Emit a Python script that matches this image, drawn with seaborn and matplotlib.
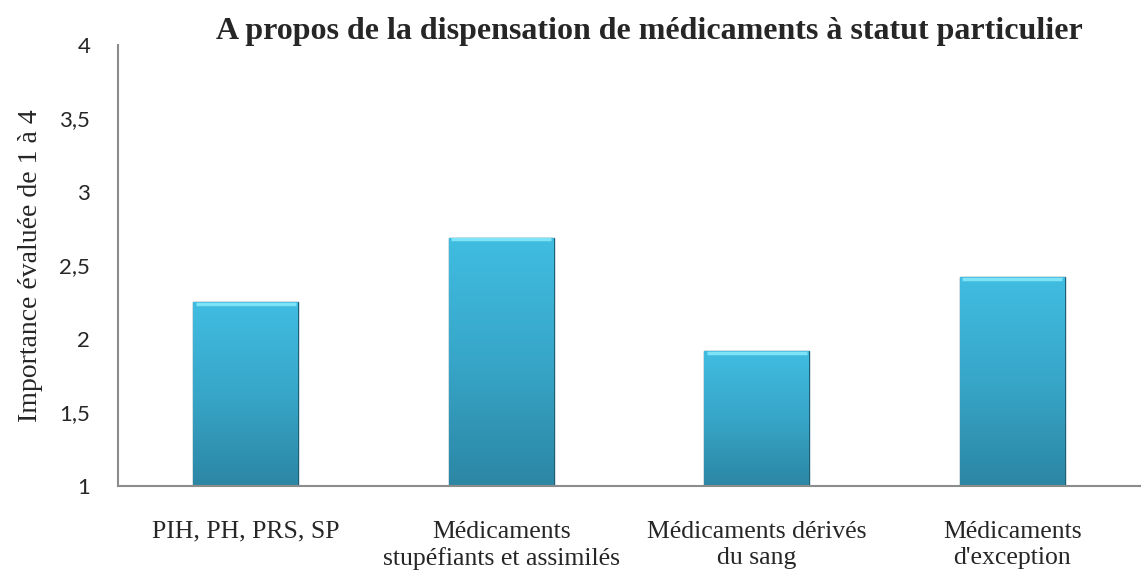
import numpy as np
import pandas as pd
import matplotlib
matplotlib.use("Agg")
import matplotlib.pyplot as plt
import seaborn as sns
from matplotlib.colors import LinearSegmentedColormap

# data
categories = ["PIH, PH, PRS, SP",
              "Médicaments\nstupéfiants et assimilés",
              "Médicaments dérivés\ndu sang",
              "Médicaments\nd'exception"]
scores = [2.25, 2.69, 1.92, 2.42]
y_ticks = [1, 1.5, 2, 2.5, 3, 3.5, 4]
y_tick_labels = ["1", "1,5", "2", "2,5", "3", "3,5", "4"]

sns.set_style("white")
plt.rcParams['font.family'] = ['Liberation Serif', 'DejaVu Serif']

df = pd.DataFrame({"cat": categories, "val": scores})

fig = plt.figure(figsize=(11.42, 5.73), dpi=100)
ax = fig.add_axes([118/1142, 1-486/573, (1140-118)/1142, (486-45)/573])

sns.barplot(data=df, x="cat", y="val", color="#3bb3d6", width=0.41,
            edgecolor="#1f5f75", linewidth=1.0, ax=ax, bottom=0, zorder=2)

ax.set_ylim(1, 4)
ax.set_xlim(-0.5, 3.5)

# vertical gradient inside each bar (light cyan top, darker teal bottom)
cmap = LinearSegmentedColormap.from_list("bar", ["#2c86a4", "#37a6c8", "#40bde1"])
grad = np.linspace(0, 1, 256).reshape(-1, 1)
for p in ax.patches:
    x0, w = p.get_x(), p.get_width()
    top = p.get_y() + p.get_height()
    im = ax.imshow(grad, cmap=cmap, origin="lower", aspect="auto",
                   extent=[x0, x0 + w, 1, top], zorder=2.5)
    im.set_clip_path(p)
    # bevel highlight on top edge
    ax.plot([x0 + 0.01, x0 + w - 0.01], [top - 0.012, top - 0.012],
            color="#7fe3f8", lw=2.5, zorder=3, solid_capstyle="butt")

ax.set_xlim(-0.5, 3.5)
ax.set_ylim(1, 4)

ax.set_yticks(y_ticks)
ax.set_yticklabels(y_tick_labels, family=["Lato", "DejaVu Sans"], fontsize=16)
ax.set_xticks(range(len(categories)))
ax.set_xticklabels(categories, fontsize=18.5, linespacing=1.25)
ax.tick_params(axis="both", length=0)
ax.tick_params(axis="y", pad=20)
ax.tick_params(axis="x", pad=25)

ax.set_xlabel("")
ax.set_ylabel("Importance évaluée de 1 à 4", fontsize=20, labelpad=12)
ax.set_title("A propos de la dispensation de médicaments à statut particulier",
             fontsize=23, fontweight="bold", x=0.52, y=0.995)

for s in ["top", "right"]:
    ax.spines[s].set_visible(False)
for s in ["left", "bottom"]:
    ax.spines[s].set_color("#8c8c8c")
    ax.spines[s].set_linewidth(1.5)

fig.savefig("out.png", dpi=100)
